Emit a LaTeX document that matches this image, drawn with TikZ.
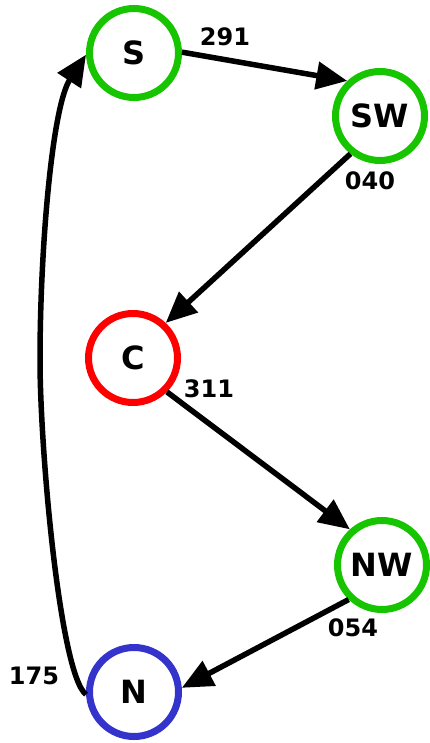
\documentclass[tikz,border=0pt]{standalone}
\usepackage{fontspec}
\setmainfont{DejaVu Sans}
\usetikzlibrary{arrows.meta}
\definecolor{cgreen}{RGB}{22,196,0}
\definecolor{cred}{RGB}{255,0,0}
\definecolor{cblue}{RGB}{52,52,204}
\tikzset{
  state/.style={circle, draw=#1, line width=7pt, minimum size=89pt, inner sep=0pt,
    font=\fontsize{32}{32}\selectfont\bfseries},
  lab/.style={font=\fontsize{24}{24}\selectfont\bfseries, inner sep=0pt},
  edge/.style={line width=5.5pt, -{Triangle[length=31pt,width=27pt]}},
}
\begin{document}
\begin{tikzpicture}[x=1pt,y=-1pt]
\useasboundingbox (0,0) rectangle (430,743);
\node[state=cgreen] (S) at (134,53) {S};
\node[state=cgreen] (SW) at (380,116) {SW};
\node[state=cred] (C) at (133,358) {C};
\node[state=cgreen] (NW) at (382,565) {NW};
\node[state=cblue] (N) at (134,692) {N};
\draw[edge] (S.1) -- (SW.133);
\draw[edge] (SW.232) -- (C.47);
\draw[edge] (C.315) -- (NW.132);
\draw[edge] (NW.226) -- (N.5);
\draw[edge] (N.183) .. controls (60,675) and (40,450) .. (40,360)
  .. controls (40,250) and (52,107) .. (S.182);
\node[lab] (l291) at (225,37) {291};
\node[lab] (l040) at (370,181) {040};
\node[lab] (l311) at (209,389) {311};
\node[lab] (l054) at (353,628) {054};
\node[lab] (l175) at (34,676) {175};
\end{tikzpicture}
\end{document}
